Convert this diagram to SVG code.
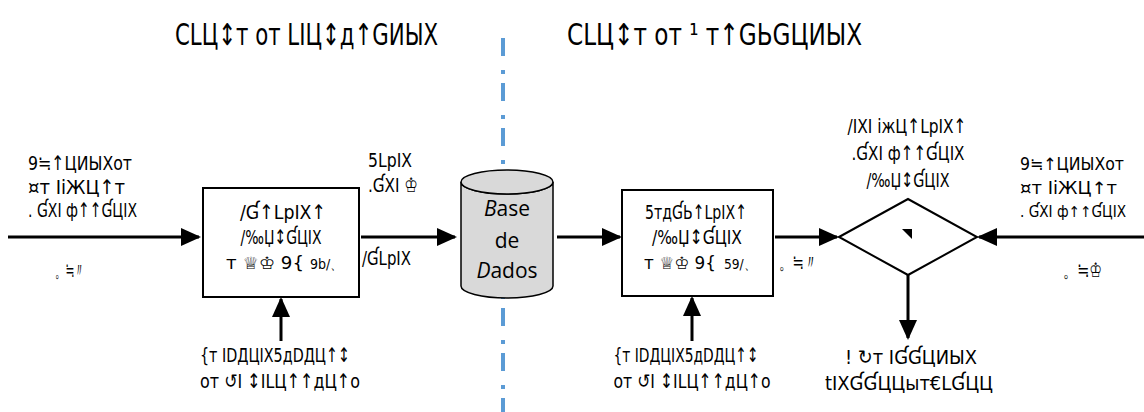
<svg xmlns="http://www.w3.org/2000/svg" width="1144" height="412" viewBox="0 0 1144 412">
<style>
  .t{font-family:"DejaVu Sans","Noto Sans",sans-serif;font-size:20px;fill:#000}
  .h{font-size:30px}
  .n{font-size:17px}
  .s{font-size:14px}
  .m{text-anchor:middle}
  .ar{stroke:#000;stroke-width:3;fill:none;marker-end:url(#ah)}
  .bx{fill:#fff;stroke:#000;stroke-width:2}
  .db{font-family:"Open Sans","Noto Sans",sans-serif;font-size:21px;fill:#000;text-anchor:middle}
</style>
<defs>
  <marker id="ah" markerWidth="20" markerHeight="18" refX="18" refY="9" orient="auto" markerUnits="userSpaceOnUse">
    <path d="M0,0 L20,9 L0,18 z" fill="#000"/>
  </marker>
</defs>

<!-- separator between the two sides -->
<line x1="503" y1="38" x2="503" y2="412" stroke="#5B9BD5" stroke-width="4" stroke-dasharray="18 14 4 9"/>

<!-- section titles -->
<g id="titles">
  <text class="t h" x="175" y="45" textLength="263" lengthAdjust="spacingAndGlyphs">CLЦ↕т от LIЦ↕д↑GИЫХ</text>
  <text class="t h" x="567" y="45" textLength="295" lengthAdjust="spacingAndGlyphs">CLЦ↕т от ¹ т↑GЬGЦИЫХ</text>
</g>

<g id="connectors">
  <path class="ar" d="M8,237 H199"/>
  <path class="ar" d="M361,237 H455"/>
  <path class="ar" d="M557,237 H620"/>
  <path class="ar" d="M775,237 H837"/>
  <path class="ar" d="M1144,237 H979"/>
  <path class="ar" d="M908,275 V338"/>
  <path class="ar" d="M281,341 V299"/>
  <path class="ar" d="M692,341 V298"/>
</g>

<g id="input-left">
  <text class="t" x="28" y="170" textLength="104" lengthAdjust="spacingAndGlyphs">9≒↑ЦИЫXот</text>
  <text class="t" x="28" y="194" textLength="97" lengthAdjust="spacingAndGlyphs">¤т IiЖЦ↑т</text>
  <text class="t" x="28" y="217" textLength="109" lengthAdjust="spacingAndGlyphs">. ƓXI ф↑↑ƓЦIX</text>
  <text class="t" x="55" y="277" textLength="30" lengthAdjust="spacingAndGlyphs">。≒〃</text>
</g>

<g id="box-left">
  <rect class="bx" x="203" y="188" width="156" height="109"/>
  <text class="t m" x="283" y="219" textLength="86" lengthAdjust="spacingAndGlyphs">/Ɠ↑LрIX↑</text>
  <text class="t m" x="281" y="244" textLength="81" lengthAdjust="spacingAndGlyphs">/‰Џ↕ƓЦIX</text>
  <text class="t n" x="226" y="269" textLength="78" lengthAdjust="spacingAndGlyphs">т ♕♔ 9{</text>
  <text class="t s" x="310" y="269" textLength="33" lengthAdjust="spacingAndGlyphs">9b/、</text>
</g>

<g id="load-label">
  <text class="t" x="368" y="167" textLength="44" lengthAdjust="spacingAndGlyphs">5LpIX</text>
  <text class="t" x="368" y="192" textLength="50" lengthAdjust="spacingAndGlyphs">.ƓXI ♔</text>
  <text class="t" x="362" y="265" textLength="49" lengthAdjust="spacingAndGlyphs">/ƓLpIX</text>
</g>

<g id="database">
  <path d="M461,182 A46,12 0 0 0 553,182 V286 A46,12 0 0 1 461,286 Z" fill="#d9d9d9" stroke="#000" stroke-width="1.5"/>
  <ellipse cx="507" cy="182" rx="46" ry="12" fill="#d9d9d9" stroke="#000" stroke-width="1.5"/>
  <text class="db" x="507" y="216"><tspan font-style="italic">B</tspan>ase</text>
  <text class="db" x="507" y="248">de</text>
  <text class="db" x="507" y="278"><tspan font-style="italic">D</tspan>ados</text>
</g>

<g id="box-right">
  <rect class="bx" x="622" y="190" width="151" height="106"/>
  <text class="t m" x="696" y="219" textLength="102" lengthAdjust="spacingAndGlyphs">5тдƓЬ↑LpIX↑</text>
  <text class="t m" x="697" y="244" textLength="90" lengthAdjust="spacingAndGlyphs">/‰Џ↕ƓЦIX</text>
  <text class="t n" x="644" y="269" textLength="72" lengthAdjust="spacingAndGlyphs">т ♕♔ 9{</text>
  <text class="t s" x="724" y="269" textLength="32" lengthAdjust="spacingAndGlyphs">59/、</text>
</g>

<g id="out-label">
  <text class="t" x="779" y="269" textLength="38" lengthAdjust="spacingAndGlyphs">。≒〃</text>
</g>

<g id="decision">
  <path d="M839,237 L908,199 L977,237 L908,275 Z" fill="#fff" stroke="#000" stroke-width="2"/>
  <path d="M902,229 H912 V239 Z" fill="#000"/>
  <text class="t m" x="907" y="133" textLength="119" lengthAdjust="spacingAndGlyphs">/IXI iжЦ↑LpIX↑</text>
  <text class="t m" x="908" y="160" textLength="113" lengthAdjust="spacingAndGlyphs">.ƓXI ф↑↑ƓЦIX</text>
  <text class="t m" x="908" y="187" textLength="83" lengthAdjust="spacingAndGlyphs">/‰Џ↕ƓЦIX</text>
</g>

<g id="input-right">
  <text class="t n" x="1020" y="170" textLength="104" lengthAdjust="spacingAndGlyphs">9≒↑ЦИЫXот</text>
  <text class="t n" x="1020" y="194" textLength="97" lengthAdjust="spacingAndGlyphs">¤т IiЖЦ↑т</text>
  <text class="t" style="font-size:15px" x="1020" y="217" textLength="106" lengthAdjust="spacingAndGlyphs">. ƓXI ф↑↑ƓЦIX</text>
  <text class="t" x="1063" y="277" textLength="39" lengthAdjust="spacingAndGlyphs">。≒♔</text>
</g>

<g id="result">
  <text class="t m" x="911" y="364" textLength="132" lengthAdjust="spacingAndGlyphs">! ↻т IƓƓЦИЫХ</text>
  <text class="t m" x="909" y="390" textLength="168" lengthAdjust="spacingAndGlyphs">tIXƓƓЦЦыт€LƓЦЦ</text>
</g>

<g id="source-left">
  <text class="t m" x="275" y="362" textLength="150" lengthAdjust="spacingAndGlyphs">{т IDДЦIX5дDДЦ↑↕</text>
  <text class="t m" x="280" y="388" textLength="160" lengthAdjust="spacingAndGlyphs">от ↺I ↕ILЦ↑↑дЦ↑o</text>
</g>

<g id="source-right">
  <text class="t m" x="686" y="362" textLength="145" lengthAdjust="spacingAndGlyphs">{т IDДЦIX5дDДЦ↑↕</text>
  <text class="t m" x="692" y="388" textLength="157" lengthAdjust="spacingAndGlyphs">от ↺I ↕ILЦ↑↑дЦ↑o</text>
</g>
</svg>
